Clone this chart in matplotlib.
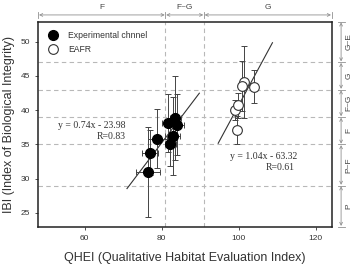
import matplotlib
matplotlib.use("Agg")
import matplotlib.pyplot as plt
import matplotlib.transforms as mtransforms

plt.rcParams['font.family'] = ['Liberation Sans', 'DejaVu Sans']

# Experimental channel (filled)
exp_x = [76.5, 77.0, 78.9, 81.7, 83.6, 83.9, 82.9, 82.3]
exp_y = [31.0, 33.8, 35.8, 38.1, 38.9, 37.9, 36.2, 35.0]
exp_yerr = [6.6, 3.3, 4.3, 4.2, 6.1, 4.4, 5.7, 3.2]
exp_xerr = [3.2, 2.1, 2.4, 1.5, 1.5, 2.0, 2.0, 1.5]

# EAFR (open)
eafr_x = [99.6, 99.1, 99.8, 101.3, 101.0, 103.9]
eafr_y = [37.1, 40.0, 40.7, 44.1, 43.5, 43.4]
eafr_yerr = [2.0, 1.5, 1.8, 5.3, 3.6, 2.4]

# regression lines
exp_slope, exp_icpt = 0.74, -23.98
exp_line_x = [71.0, 89.8]
eafr_slope, eafr_icpt = 1.04, -63.32
eafr_line_x = [94.7, 108.8]

# grades
qhei_bounds = [81, 91]
qhei_labels = ['F', 'F~G', 'G']
ibi_bounds = [29, 35, 39, 43, 47]
ibi_labels = ['P', 'P~F', 'F', 'F~G', 'G', 'G~E']

xlim = (47.95, 124.2)
ylim = (23.0, 52.9)

fig = plt.figure(figsize=(3.54, 2.64), dpi=100)
ax = fig.add_axes([38.3/354, 1-226.7/264, (331.7-38.3)/354, (226.7-21.7)/264])
ax.set_xlim(*xlim)
ax.set_ylim(*ylim)

gridc = '#b8b8b8'
for b in qhei_bounds:
    ax.axvline(b, color=gridc, lw=0.8, ls=(0, (4, 3)), zorder=0)
for b in ibi_bounds:
    ax.axhline(b, color=gridc, lw=0.8, ls=(0, (4, 3)), zorder=0)

ax.plot(exp_line_x, [exp_slope*v + exp_icpt for v in exp_line_x], color='#333333', lw=0.8, zorder=1)
ax.plot(eafr_line_x, [eafr_slope*v + eafr_icpt for v in eafr_line_x], color='#333333', lw=0.8, zorder=1)

ax.errorbar(exp_x, exp_y, yerr=exp_yerr, xerr=exp_xerr, fmt='none', ecolor='#444444',
            elinewidth=0.7, capsize=2.5, capthick=0.7, zorder=2)
ax.errorbar(eafr_x, eafr_y, yerr=eafr_yerr, fmt='none', ecolor='#444444',
            elinewidth=0.7, capsize=2.5, capthick=0.7, zorder=2)
ax.plot(exp_x, exp_y, 'o', ms=7, mfc='black', mec='black', zorder=3,
        label='Experimental chnnel')
ax.plot(eafr_x, eafr_y, 'o', ms=7, mfc='white', mec='#333333', mew=0.8, zorder=3,
        label='EAFR')

leg = ax.legend(loc='upper left', frameon=False, fontsize=6.2, handletextpad=1.2,
                borderaxespad=0.5, labelspacing=0.5, handlelength=1.0,
                bbox_to_anchor=(0.01, 0.99))
for t in leg.get_texts():
    t.set_color('#333333')

eqfont = dict(family='Liberation Serif', fontsize=7, color='#333333', va='center')
ax.text(61.8, 37.8, 'y = 0.74x - 23.98', ha='center', **eqfont)
ax.text(70.6, 36.2, 'R=0.83', ha='right', **eqfont)
ax.text(106.4, 33.3, 'y = 1.04x - 63.32', ha='center', **eqfont)
ax.text(114.6, 31.7, 'R=0.61', ha='right', **eqfont)

ax.set_xticks([60, 80, 100, 120])
ax.set_yticks([25, 30, 35, 40, 45, 50])
ax.tick_params(labelsize=6, colors='#333333', length=2.5, width=0.6)
for s in ax.spines.values():
    s.set_linewidth(1.1)
    s.set_color('#222222')

ax.set_xlabel('QHEI (Qualitative Habitat Evaluation Index)', fontsize=9, color='#333333', labelpad=7)
ax.set_ylabel('IBI (Index of Biological Integrity)', fontsize=9, color='#333333', labelpad=4)

# top grade arrows
arrc = '#909090'
tr_top = mtransforms.blended_transform_factory(ax.transData, ax.transAxes)
xb = [xlim[0]] + qhei_bounds + [xlim[1]]
ya, yt = 1.033, 1.068
for i, lab in enumerate(qhei_labels):
    a, b = xb[i], xb[i+1]
    ax.annotate('', xy=(a, ya), xytext=(b, ya), xycoords=tr_top, textcoords=tr_top,
                arrowprops=dict(arrowstyle='<->', color=arrc, lw=0.6,
                                shrinkA=0.5, shrinkB=0.5, mutation_scale=5),
                annotation_clip=False)
    ax.text((a+b)/2, yt, lab, transform=tr_top, fontsize=6, color='#444444',
            ha='center', va='center', clip_on=False)
for v in xb:
    ax.plot([v, v], [ya-0.015, ya+0.015], transform=tr_top, color=arrc, lw=0.6, clip_on=False)

# right grade arrows
tr_r = mtransforms.blended_transform_factory(ax.transAxes, ax.transData)
yb = [ylim[0]] + ibi_bounds + [ylim[1]]
xa, xt = 1.032, 1.059
for i, lab in enumerate(ibi_labels):
    a, b = yb[i], yb[i+1]
    ax.annotate('', xy=(xa, a), xytext=(xa, b), xycoords=tr_r, textcoords=tr_r,
                arrowprops=dict(arrowstyle='<->', color=arrc, lw=0.6,
                                shrinkA=0.5, shrinkB=0.5, mutation_scale=5),
                annotation_clip=False)
    ax.text(xt, (a+b)/2, lab, transform=tr_r, fontsize=6, color='#444444',
            ha='center', va='center', rotation=90, clip_on=False)
for v in yb:
    ax.plot([xa-0.012, xa+0.012], [v, v], transform=tr_r, color=arrc, lw=0.6, clip_on=False)

fig.savefig('out.png', dpi=100)
